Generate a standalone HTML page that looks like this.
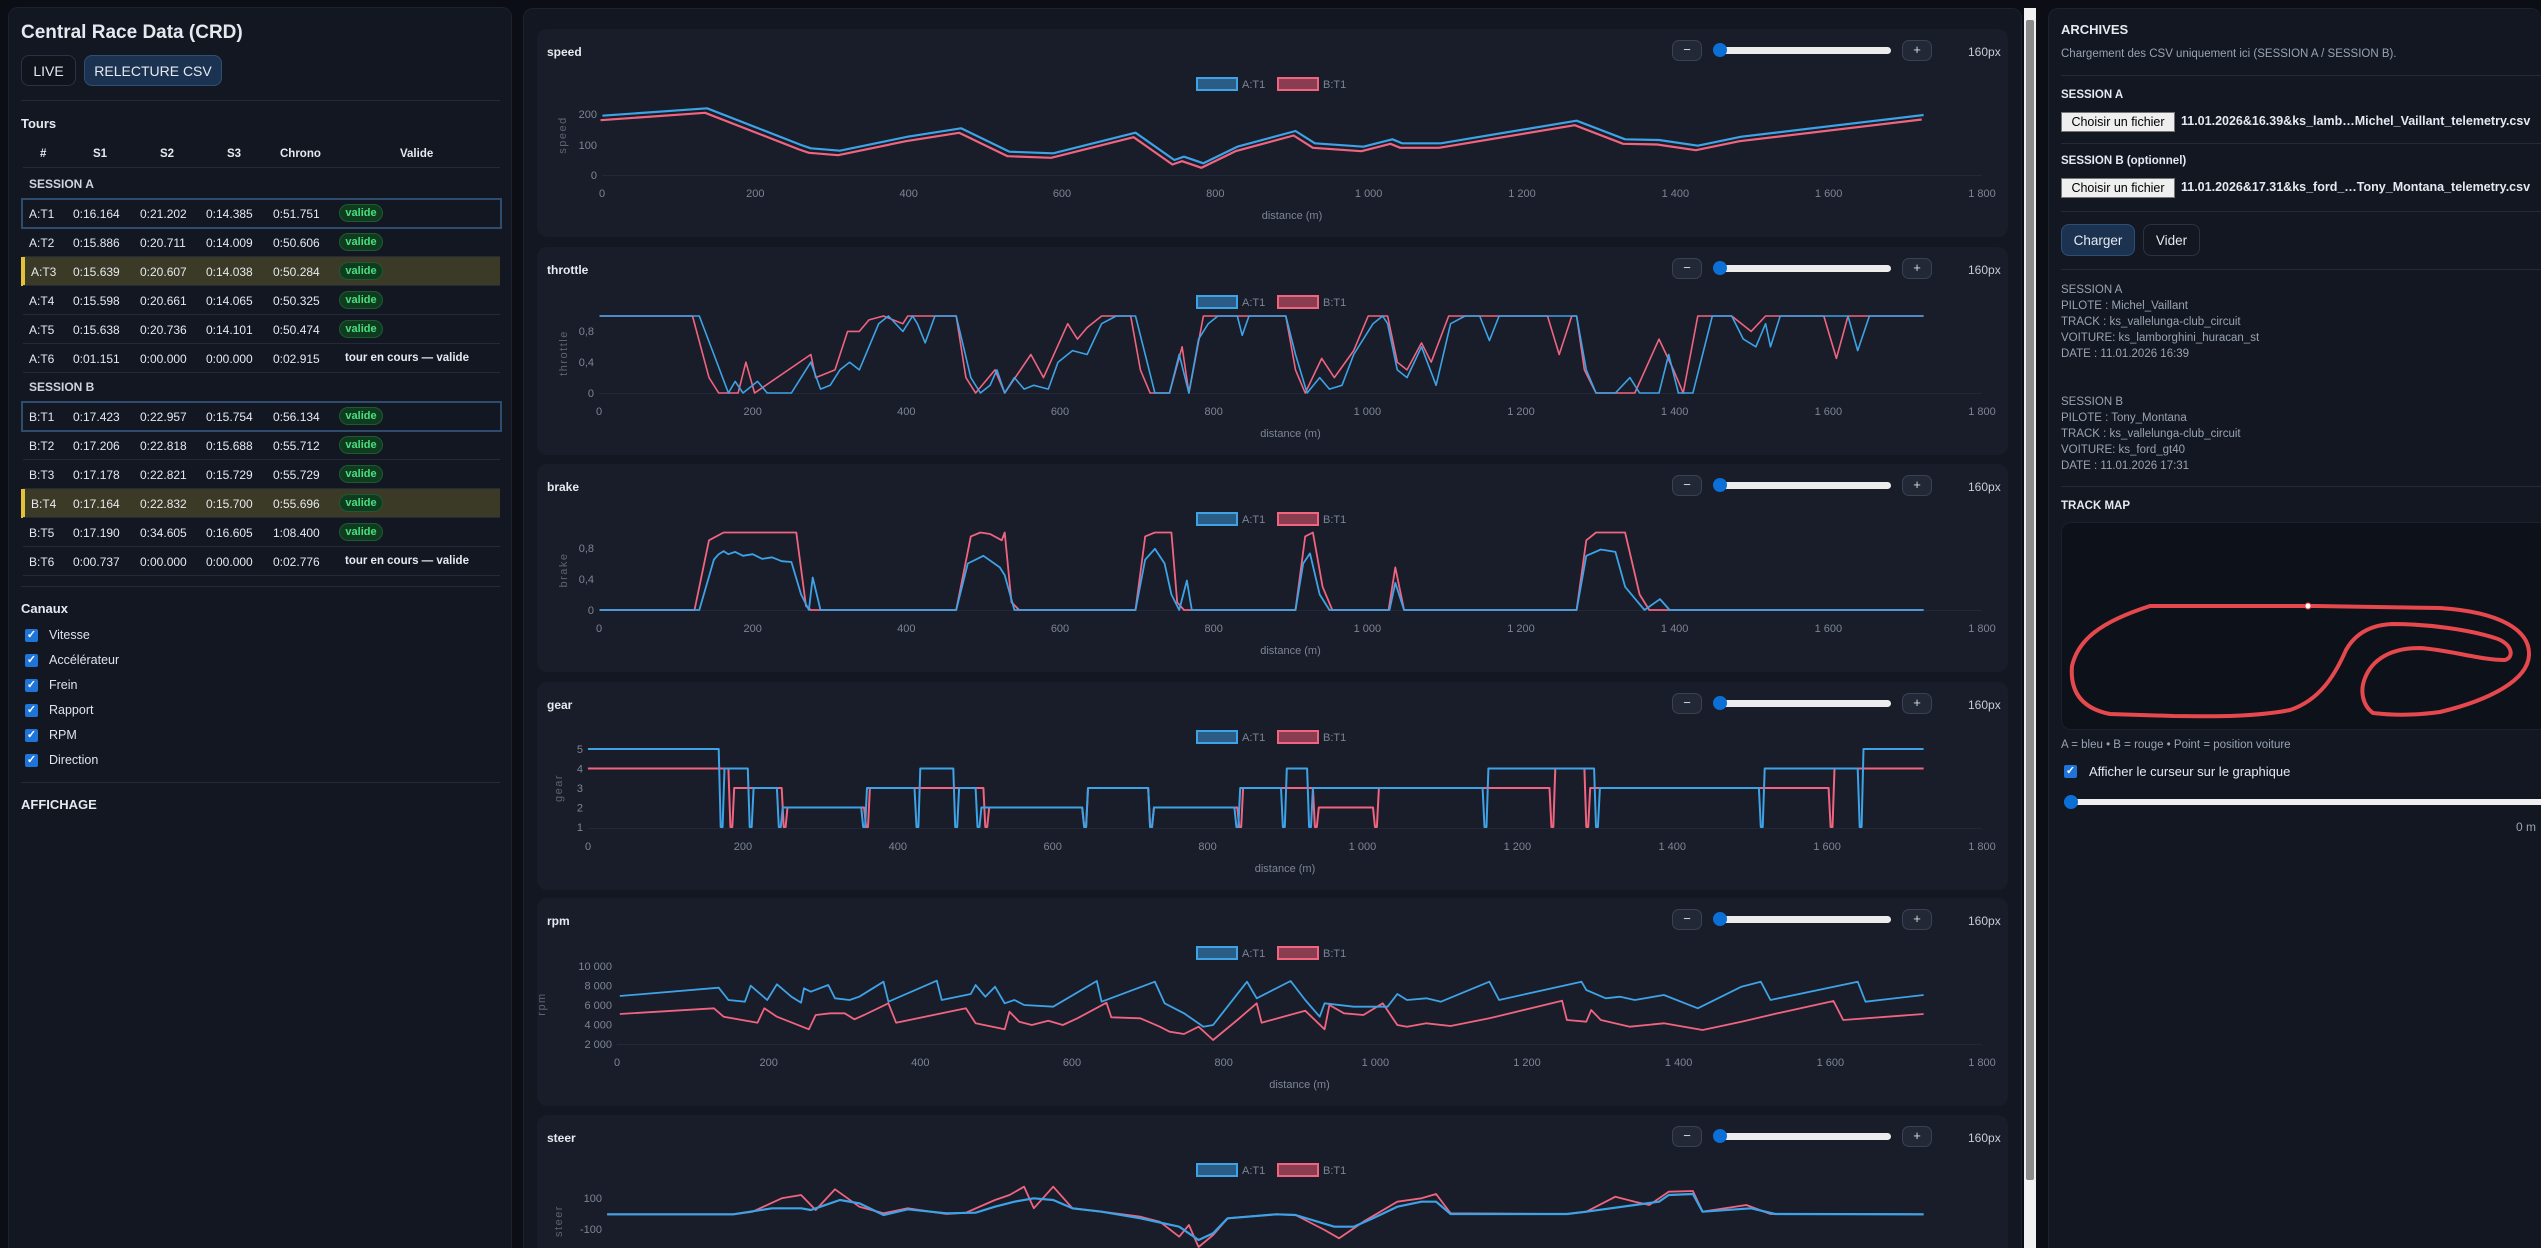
<!DOCTYPE html>
<html><head><meta charset="utf-8">
<style>
*{box-sizing:border-box;margin:0;padding:0}
html,body{width:2541px;height:1248px;overflow:hidden}
body{background:#0b0e15;font-family:"Liberation Sans",sans-serif;color:#e6e9ef}
#wrap{position:relative;width:2541px;height:1248px;overflow:hidden}
.abs{position:absolute}
.panel{position:absolute;background:#121722;border:1px solid #1c2230;border-bottom:none;border-radius:10px 10px 0 0}
.sep{position:absolute;height:1px;background:#242b38}
.btn{position:absolute;border:1px solid #2a3243;border-radius:8px;color:#e6e9ef;font-size:14px;display:flex;align-items:center;justify-content:center;background:#0f141d}
.btn.act{background:#1b3350;border-color:#2d4f74}
.t{position:absolute;font-size:12px;white-space:nowrap}
.pill{position:absolute;width:44px;height:18px;border-radius:9px;background:#0f3b1f;border:1px solid #1d5a31;color:#4ade80;font-size:11px;font-weight:bold;display:flex;align-items:center;justify-content:center}
.cb{position:absolute;width:13px;height:13px;background:#1e74d8;border-radius:2px;color:#fff;font-size:11px;line-height:13px;text-align:center;font-weight:bold}
.lab{position:absolute;font-size:12.5px;color:#dfe3ea}
.card{position:absolute;left:537px;width:1471px;height:208px;background:#181d29;border-radius:10px}
.info{position:absolute;font-size:11.5px;color:#9aa3b2;line-height:16px;left:2061px}
</style></head><body><div id="wrap">

<div class="panel" style="left:8px;top:7px;width:504px;height:1241px"></div>
<div class="t" style="left:21px;top:22px;font-size:19px;font-weight:bold">Central Race Data (CRD)</div>
<div class="btn" style="left:21px;top:55px;width:55px;height:31px">LIVE</div>
<div class="btn act" style="left:84px;top:55px;width:138px;height:31px">RELECTURE CSV</div>
<div class="sep" style="left:21px;top:100px;width:479px"></div>
<div class="t" style="left:21px;top:116px;font-size:13px;font-weight:bold">Tours</div>
<div class="t" style="left:40px;top:148px;font-weight:bold;font-size:11.5px">#</div>
<div class="t" style="left:93px;top:148px;font-weight:bold;font-size:11.5px">S1</div>
<div class="t" style="left:160px;top:148px;font-weight:bold;font-size:11.5px">S2</div>
<div class="t" style="left:227px;top:148px;font-weight:bold;font-size:11.5px">S3</div>
<div class="t" style="left:280px;top:148px;font-weight:bold;font-size:11.5px">Chrono</div>
<div class="t" style="left:400px;top:148px;font-weight:bold;font-size:11.5px">Valide</div>
<div class="sep" style="left:23px;top:167px;width:477px"></div>
<div id="rows"></div>
<div class="sep" style="left:21px;top:586px;width:479px"></div>
<div class="t" style="left:21px;top:601px;font-size:13px;font-weight:bold">Canaux</div>
<div id="cbs"></div>
<div class="sep" style="left:21px;top:782px;width:479px"></div>
<div class="t" style="left:21px;top:797px;font-size:13px;font-weight:bold">AFFICHAGE</div>

<div class="panel" style="left:523px;top:8px;width:1499px;height:1240px;background:#121722"></div>
<div class="abs" style="left:2024px;top:8px;width:12px;height:1240px;background:#f1f1f1"></div>
<div class="abs" style="left:2026px;top:20px;width:8px;height:1160px;background:#8a8a8a;border-radius:2px"></div>
<div id="cards"></div>
<svg id="plot" class="abs" style="left:0;top:0" width="2541" height="1248"></svg>

<div class="panel" style="left:2048px;top:8px;width:493px;height:1240px;border-right:none"></div>
<div class="t" style="left:2061px;top:22px;font-size:13px;font-weight:bold">ARCHIVES</div>
<div class="t" style="left:2061px;top:48px;font-size:11.5px;color:#9aa3b2">Chargement des CSV uniquement ici (SESSION A / SESSION B).</div>
<div class="sep" style="left:2061px;top:75px;width:480px"></div>
<div class="t" style="left:2061px;top:89px;font-size:11.5px;font-weight:bold">SESSION A</div>
<div class="abs" style="left:2061px;top:112px;width:114px;height:20px;background:#efefef;border:1px solid #767676;color:#000;font-size:12.5px;text-align:center;line-height:18px">Choisir un fichier</div>
<div class="t" style="left:2181px;top:114px;font-size:12.5px;font-weight:bold">11.01.2026&amp;16.39&amp;ks_lamb…Michel_Vaillant_telemetry.csv</div>
<div class="sep" style="left:2061px;top:143px;width:480px"></div>
<div class="t" style="left:2061px;top:155px;font-size:11.5px;font-weight:bold">SESSION B (optionnel)</div>
<div class="abs" style="left:2061px;top:178px;width:114px;height:20px;background:#efefef;border:1px solid #767676;color:#000;font-size:12.5px;text-align:center;line-height:18px">Choisir un fichier</div>
<div class="t" style="left:2181px;top:180px;font-size:12.5px;font-weight:bold">11.01.2026&amp;17.31&amp;ks_ford_…Tony_Montana_telemetry.csv</div>
<div class="sep" style="left:2061px;top:211px;width:480px"></div>
<div class="btn act" style="left:2061px;top:224px;width:74px;height:32px;font-size:13.5px">Charger</div>
<div class="btn" style="left:2143px;top:224px;width:57px;height:32px;font-size:13.5px;background:#121722">Vider</div>
<div class="sep" style="left:2061px;top:269px;width:480px"></div>
<div class="info" style="top:282px">SESSION A<br>PILOTE : Michel_Vaillant<br>TRACK : ks_vallelunga-club_circuit<br>VOITURE: ks_lamborghini_huracan_st<br>DATE : 11.01.2026 16:39</div>
<div class="info" style="top:394px">SESSION B<br>PILOTE : Tony_Montana<br>TRACK : ks_vallelunga-club_circuit<br>VOITURE: ks_ford_gt40<br>DATE : 11.01.2026 17:31</div>
<div class="sep" style="left:2061px;top:486px;width:480px"></div>
<div class="t" style="left:2061px;top:500px;font-size:11.5px;font-weight:bold">TRACK MAP</div>
<div class="abs" style="left:2061px;top:522px;width:480px;height:208px;background:#0d1119;border:1px solid #1a202c;border-right:none;border-radius:10px 0 0 10px"></div>
<svg class="abs" style="left:0;top:0" width="2541" height="1248">
<path d="M2316,606 L2440,608 C2500,612 2530,630 2529,655 C2528,680 2490,700 2440,712 C2410,716 2390,715 2373,713 C2362,705 2360,690 2365,678 C2372,660 2390,648 2420,648 C2450,650 2480,660 2505,660 C2515,657 2512,643 2495,638 C2470,630 2430,624 2392,624 C2370,625 2355,634 2346,650 C2335,675 2320,700 2290,710 C2250,718 2200,716 2173,716 L2110,714 C2080,708 2070,690 2072,666 C2078,640 2100,622 2150,606 Z" fill="none" stroke="#e5484d" stroke-width="4"/>
<circle cx="2308" cy="606" r="3" fill="#fff" stroke="#e5484d"/>
</svg>
<div class="t" style="left:2061px;top:739px;font-size:11.5px;color:#9aa3b2">A = bleu • B = rouge • Point = position voiture</div>
<div class="cb" style="left:2064px;top:765px">✓</div>
<div class="t" style="left:2089px;top:764px;font-size:13px">Afficher le curseur sur le graphique</div>
<div class="abs" style="left:2064px;top:799px;width:477px;height:6px;background:#efefef;border-radius:3px 0 0 3px"></div>
<div class="abs" style="left:2064px;top:795px;width:14px;height:14px;background:#0b6fd6;border-radius:7px"></div>
<div class="t" style="left:2516px;top:820px;font-size:12px;color:#9aa3b2">0 m</div>
</div>
<script>
var rowsA=[["A:T1","0:16.164","0:21.202","0:14.385","0:51.751",1],["A:T2","0:15.886","0:20.711","0:14.009","0:50.606",0],["A:T3","0:15.639","0:20.607","0:14.038","0:50.284",2],["A:T4","0:15.598","0:20.661","0:14.065","0:50.325",0],["A:T5","0:15.638","0:20.736","0:14.101","0:50.474",0],["A:T6","0:01.151","0:00.000","0:00.000","0:02.915",3]];
var rowsB=[["B:T1","0:17.423","0:22.957","0:15.754","0:56.134",1],["B:T2","0:17.206","0:22.818","0:15.688","0:55.712",0],["B:T3","0:17.178","0:22.821","0:15.729","0:55.729",0],["B:T4","0:17.164","0:22.832","0:15.700","0:55.696",2],["B:T5","0:17.190","0:34.605","0:16.605","1:08.400",0],["B:T6","0:00.737","0:00.000","0:00.000","0:02.776",3]];
var h="";
function sec(name,y,rows){
 h+='<div class="t" style="left:29px;top:'+(y-7)+'px;font-weight:bold;color:#cfd4dc">'+name+'</div>';
 rows.forEach(function(r,i){var cy=y+29+i*29;
  if(r[5]==1)h+='<div class="abs" style="left:21px;top:'+(cy-15)+'px;width:481px;height:31px;border:2px solid #2e4c6e"></div>';
  if(r[5]==2)h+='<div class="abs" style="left:21px;top:'+(cy-14)+'px;width:479px;height:29px;background:#3b3a26;border-left:4px solid #e3c13a"></div>';
  var xs=[29,73,140,206,273];
  for(var k=0;k<5;k++)h+='<div class="t" style="left:'+(xs[k]+(r[5]==2&&k==0?2:0))+'px;top:'+(cy-6)+'px">'+r[k]+'</div>';
  if(r[5]==3)h+='<div class="t" style="left:345px;top:'+(cy-6)+'px;font-weight:bold;font-size:11.5px">tour en cours — valide</div>';
  else h+='<div class="pill" style="left:339px;top:'+(cy-9)+'px">valide</div>';
  if(r[5]!=1)h+='<div class="sep" style="left:23px;top:'+(cy+14)+'px;width:477px"></div>';
 });
}
sec("SESSION A",184,rowsA);sec("SESSION B",387,rowsB);
document.getElementById("rows").innerHTML=h;
h="";["Vitesse","Accélérateur","Frein","Rapport","RPM","Direction"].forEach(function(l,i){var y=629+i*25;
 h+='<div class="cb" style="left:25px;top:'+y+'px">✓</div><div class="lab" style="left:49px;top:'+(y-1)+'px">'+l+'</div>';});
document.getElementById("cbs").innerHTML=h;

var tops=[29,247,464,682,898,1115],names=["speed","throttle","brake","gear","rpm","steer"];
h="";
tops.forEach(function(T,i){
 h+='<div class="card" style="top:'+T+'px'+(i==5?';height:133px;border-radius:10px 10px 0 0':'')+'"></div>';
 h+='<div class="t" style="left:547px;top:'+(T+16)+'px;font-weight:bold;font-size:12px">'+names[i]+'</div>';
 h+='<div class="abs" style="left:1672px;top:'+(T+11)+'px;width:30px;height:21px;border:1px solid #3a4252;border-radius:7px;background:#222836;color:#ddd;font-size:13px;text-align:center;line-height:18px">−</div>';
 h+='<div class="abs" style="left:1714px;top:'+(T+18)+'px;width:177px;height:7px;background:#ececec;border-radius:4px"></div>';
 h+='<div class="abs" style="left:1713px;top:'+(T+14)+'px;width:14px;height:14px;background:#0b6fd6;border-radius:7px"></div>';
 h+='<div class="abs" style="left:1902px;top:'+(T+11)+'px;width:30px;height:21px;border:1px solid #3a4252;border-radius:7px;background:#222836;color:#ddd;font-size:13px;text-align:center;line-height:18px">+</div>';
 h+='<div class="t" style="left:1968px;top:'+(T+16)+'px;font-size:12px;color:#c8ccd4">160px</div>';
});
document.getElementById("cards").innerHTML=h;

var s="",BL="#3ea2e6",RD="#f06480";
function X(zx){return 520+zx/1.0316}
function poly(pts,c,w){s+='<polyline fill="none" stroke="'+c+'" stroke-width="'+(w||1.6)+'" stroke-linejoin="round" points="'+pts.map(function(p){return p[0].toFixed(1)+","+Math.min(p[1],1247).toFixed(1)}).join(" ")+'"/>';}
function txt(x,y,t,anc,extra){s+='<text x="'+x+'" y="'+y+'" font-size="11" fill="#7d8594" text-anchor="'+(anc||"middle")+'" font-family="Liberation Sans, sans-serif" '+(extra||"")+'>'+t+'</text>';}
function frame(T,x0,yt,title,tx){
 var x1=1982;
 for(var k=0;k<=9;k++){var x=x0+(x1-x0)*k/9;var v=k*200;txt(x,T+168,v>=1000?(Math.floor(v/1000)+" "+("00"+(v%1000)).slice(-3)):v,"middle",'font-size="10.5"');}
 txt((x0+x1)/2,T+190,"distance (m)");
 yt.forEach(function(a){txt(x0-5,a[0]+4,a[1],"end");});
 s+='<line x1="'+x0+'" y1="'+(T+146.5)+'" x2="'+x1+'" y2="'+(T+146.5)+'" stroke="#222836"/>';
 s+='<text x="0" y="0" transform="translate('+tx+','+(T+106)+') rotate(-90)" font-size="11" fill="#5d6472" text-anchor="middle" letter-spacing="1.5" font-family="Liberation Sans, sans-serif">'+title+'</text>';
 s+='<rect x="1197" y="'+(T+49)+'" width="40" height="12" fill="#2a5c85" stroke="'+BL+'" stroke-width="2"/>';
 txt(1242,T+59,"A:T1","start");
 s+='<rect x="1278" y="'+(T+49)+'" width="40" height="12" fill="#8a3c50" stroke="'+RD+'" stroke-width="2"/>';
 txt(1323,T+59,"B:T1","start");
}
function vpts(arr,T,fy){return arr.map(function(p){return [X(p[0]),fy(p[1])];});}
var T=29;frame(T,602,[[T+85,"200"],[T+116,"100"],[T+146,"0"]],"speed",566);
var spA=[[85,347],[193,325],[290,435],[300,445],[330,452],[400,410],[455,385],[505,455],[550,460],[635,398],[675,480],[685,470],[705,490],[740,440],[800,393],[820,430],[870,440],[900,418],[910,430],[950,430],[1090,362],[1140,418],[1175,420],[1215,437],[1260,410],[1448,345]];
poly(spA.map(function(p){return [X(p[0]-2),p[1]/3+4.5]}),RD,2.2);
poly(spA.map(function(p){return [X(p[0]),p[1]/3]}),BL,2.2);
T=247;frame(T,599,[[T+84,"0,8"],[T+115,"0,4"],[T+146,"0"]],"throttle",567);
var fy1=function(v){return T+146-v*77};
var thB=[[82,1],[178,1],[195,.2],[205,0],[225,0],[233,.4],[242,0],[300,.5],[305,.2],[325,.3],[338,.8],[350,.8],[360,.95],[375,1],[395,.9],[400,1],[450,1],[460,.2],[470,0],[490,.3],[500,0],[527,.5],[540,.2],[565,.9],[575,.7],[585,.85],[600,1],[630,1],[640,.3],[650,0],[670,0],[683,.6],[690,0],[705,1],[790,1],[800,.3],[810,0],[827,.45],[840,.2],[860,.55],[875,1],[895,1],[905,.4],[915,.3],[930,.65],[940,.4],[958,1],[1060,1],[1072,.5],[1085,1],[1090,1],[1098,.3],[1110,0],[1150,0],[1175,.7],[1190,.3],[1200,0],[1215,1],[1250,1],[1270,.8],[1285,1],[1345,1],[1358,.45],[1370,1],[1448,1]];
var thA=[[82,1],[185,1],[200,.5],[215,0],[222,.15],[230,0],[245,.15],[255,0],[280,0],[290,.2],[300,.4],[310,.05],[320,.1],[330,.3],[340,.4],[350,.3],[360,.6],[370,.9],[380,1],[395,.8],[405,1],[410,.9],[418,.65],[428,1],[450,1],[465,.2],[475,0],[485,.1],[492,.3],[500,0],[510,.2],[520,.05],[530,.1],[545,.05],[555,.4],[570,.55],[585,.5],[600,.9],[615,1],[635,1],[645,.5],[655,0],[670,0],[680,.5],[690,0],[700,.7],[710,.9],[720,1],[740,1],[745,.75],[752,1],[790,1],[800,.5],[812,0],[825,.2],[835,.05],[848,.1],[860,.5],[880,.9],[890,1],[895,.9],[905,.3],[915,.2],[930,.6],[945,.1],[960,.9],[975,1],[990,1],[1000,.68],[1010,1],[1090,1],[1100,.3],[1110,0],[1130,0],[1145,.2],[1155,0],[1175,0],[1185,.5],[1195,0],[1210,0],[1230,1],[1250,1],[1262,.7],[1275,.6],[1285,.9],[1290,.6],[1300,1],[1370,1],[1380,.55],[1392,1],[1448,1]];
poly(vpts(thB,T,fy1),RD,1.6);poly(vpts(thA,T,fy1),BL,1.6);
T=464;frame(T,599,[[T+84,"0,8"],[T+115,"0,4"],[T+146,"0"]],"brake",567);
var fy2=function(v){return T+146-v*77.5};
var brB=[[82,0],[180,0],[195,.9],[210,1],[285,1],[295,.05],[300,0],[450,0],[465,.95],[475,1],[485,.98],[497,.9],[500,1],[507,.1],[515,0],[635,0],[645,.95],[655,1],[672,1],[678,.1],[685,0],[800,0],[810,.95],[818,1],[828,.3],[838,0],[896,0],[903,.55],[912,0],[1090,0],[1100,.9],[1110,1],[1140,1],[1155,.2],[1165,0],[1448,0]];
var brA=[[82,0],[185,0],[200,.65],[205,.72],[210,.76],[215,.72],[222,.75],[230,.7],[240,.72],[250,.66],[260,.68],[270,.63],[280,.62],[290,.2],[298,0],[302,.42],[310,0],[450,0],[462,.6],[478,.7],[495,.55],[500,.45],[510,0],[635,0],[645,.65],[655,.79],[665,.6],[672,.2],[680,0],[688,.38],[693,0],[800,0],[808,.6],[815,.73],[825,.2],[835,0],[897,0],[903,.35],[912,0],[1090,0],[1100,.7],[1115,.78],[1130,.75],[1140,.3],[1150,.15],[1160,0],[1176,.14],[1186,0],[1448,0]];
poly(vpts(brB,T,fy2),RD,1.8);poly(vpts(brA,T,fy2),BL,1.8);
T=682;frame(T,588,[[T+67,"5"],[T+86.5,"4"],[T+106,"3"],[T+125.5,"2"],[T+145,"1"]],"gear",562);
function gpts(steps){var p=[],st=70,fy=function(g){return T+145-(g-1)*19.5};
 steps.forEach(function(a,i){p.push([X(st),fy(a[1])]);p.push([X(a[0]),fy(a[1])]);
  if(i<steps.length-1){p.push([X(a[0]+2),fy(1)]);p.push([X(a[0]+4),fy(1)]);}st=a[0]+6;});return p;}
poly(gpts([[215,4],[270,3],[355,2],[478,3],[580,2],[648,3],[740,2],[818,3],[880,2],[1062,3],[1098,4],[1350,3],[1448,4]]),RD,2);
poly(gpts([[205,5],[235,4],[265,3],[352,2],[407,3],[447,4],[470,3],[580,2],[648,3],[737,2],[785,3],[812,4],[993,3],[1108,4],[1278,3],[1380,4],[1448,5]]),BL,2);
T=898;frame(T,617,[[T+68,"10 000"],[T+87.5,"8 000"],[T+107,"6 000"],[T+126.5,"4 000"],[T+146,"2 000"]],"rpm",545);
var fz=function(arr){return arr.map(function(p){return [X(p[0]),890+p[1]/3]})};
poly(fz([[103,372],[200,355],[210,380],[245,398],[252,355],[265,380],[298,418],[305,375],[320,370],[335,370],[345,388],[355,375],[380,340],[388,398],[460,355],[470,400],[500,418],[505,365],[515,395],[528,405],[545,392],[560,405],[575,385],[605,338],[610,382],[640,385],[660,410],[670,425],[685,432],[700,410],[715,450],[740,390],[760,340],[765,398],[810,362],[830,418],[835,345],[850,370],[870,375],[890,340],[905,405],[915,410],[935,400],[960,408],[1000,385],[1075,332],[1080,390],[1100,395],[1105,360],[1115,390],[1145,410],[1180,400],[1220,420],[1260,395],[1300,368],[1355,333],[1365,390],[1448,372]]),RD,1.8);
poly(fz([[103,318],[205,293],[215,330],[232,335],[238,287],[255,330],[265,283],[280,320],[290,338],[293,295],[300,305],[318,285],[325,325],[340,330],[350,320],[375,275],[380,335],[430,272],[435,330],[465,312],[470,285],[480,320],[490,290],[500,340],[510,330],[520,345],[550,350],[595,273],[600,335],[655,275],[665,340],[685,370],[695,390],[705,410],[715,405],[750,275],[760,325],[795,273],[810,330],[825,380],[830,340],[860,350],[895,350],[905,312],[915,330],[935,325],[950,335],[1000,275],[1010,330],[1095,275],[1100,300],[1120,325],[1135,320],[1150,330],[1180,315],[1215,355],[1260,290],[1280,275],[1290,330],[1380,275],[1388,335],[1448,315]]),BL,1.8);
T=1115;frame(T,607,[[T+83,"100"],[T+114,"-100"]],"steer",562);
poly(fz([[90,973],[220,973],[240,965],[270,925],[290,915],[305,960],[325,898],[350,950],[375,970],[400,955],[440,972],[460,968],[490,930],[505,915],[520,890],[530,955],[550,890],[570,955],[600,965],[640,980],[660,995],[680,1040],[690,1005],[700,1075],[715,1035],[730,985],[780,973],[800,975],[830,1020],[845,1045],[870,995],[905,935],[930,925],[945,912],[960,970],[1080,972],[1100,965],[1130,920],[1150,935],[1165,945],[1185,905],[1210,903],[1220,965],[1265,945],[1290,972],[1448,973]]),RD,1.8);
poly(fz([[90,973],[220,973],[260,955],[290,955],[300,960],[310,950],[330,930],[350,940],[375,975],[400,958],[440,970],[470,968],[490,950],[510,935],[530,925],[550,930],[570,955],[600,965],[640,985],[680,1010],[700,1050],[715,1030],[730,985],[780,973],[800,975],[840,1010],[860,1010],[880,985],[905,950],[930,935],[945,935],[960,972],[1080,972],[1100,965],[1150,945],[1175,935],[1185,915],[1210,912],[1220,965],[1270,955],[1295,972],[1448,973]]),BL,2.2);
document.getElementById("plot").innerHTML=s;
</script>
</body></html>
